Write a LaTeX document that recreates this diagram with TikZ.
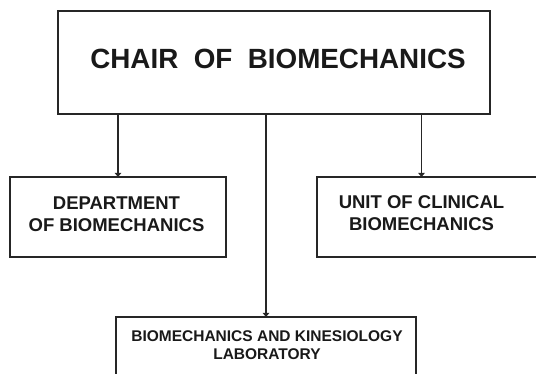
\documentclass[tikz,border=0pt]{standalone}
\usepackage{fontspec}
\setmainfont{Liberation Sans}
\usetikzlibrary{arrows.meta}
\begin{document}
\begin{tikzpicture}[x=1pt,y=-1pt,
  box/.style={draw=black!85, line width=1.7pt, inner sep=0pt, fill=white},
  lbl/.style={font=\bfseries, align=center, text=black!90, inner sep=0pt},
  arr/.style={draw=black!85, line width=1.6pt, -{Triangle[length=4pt,width=6.5pt]}, shorten >=-0.8pt}]
\useasboundingbox (0,0) rectangle (536,373);
% boxes
\node[box, minimum width=432pt, minimum height=103pt] (chair) at (274,62.5) {};
\node[box, minimum width=216pt, minimum height=80pt] (dept) at (118,217) {};
\node[box, minimum width=228pt, minimum height=80pt] (unit) at (431,217) {};
\node[box, minimum width=300pt, minimum height=73pt] (lab) at (266,353.5) {};
% labels
\node[lbl, font=\bfseries\fontsize{27.8}{34}\selectfont] (tchair) at (278,59) {CHAIR\ \ OF\ \ BIOMECHANICS};
\node[lbl, font=\bfseries\fontsize{18.5}{22}\selectfont] (tdept) at (116.5,214.5) {DEPARTMENT\\OF BIOMECHANICS};
\node[lbl, font=\bfseries\fontsize{18.5}{22}\selectfont] (tunit) at (421.5,213.5) {UNIT OF CLINICAL\\BIOMECHANICS};
\node[lbl, font=\bfseries\fontsize{15.5}{18}\selectfont] (tlab) at (267,345) {BIOMECHANICS AND KINESIOLOGY\\LABORATORY};
% connectors
\draw[arr] (chair.south -| dept.north) -- (dept.north);
\draw[arr] (chair.south -| lab.north) -- (lab.north);
\draw[arr] (chair.south -| tunit.north) -- (unit.north -| tunit.north);
\end{tikzpicture}
\end{document}
